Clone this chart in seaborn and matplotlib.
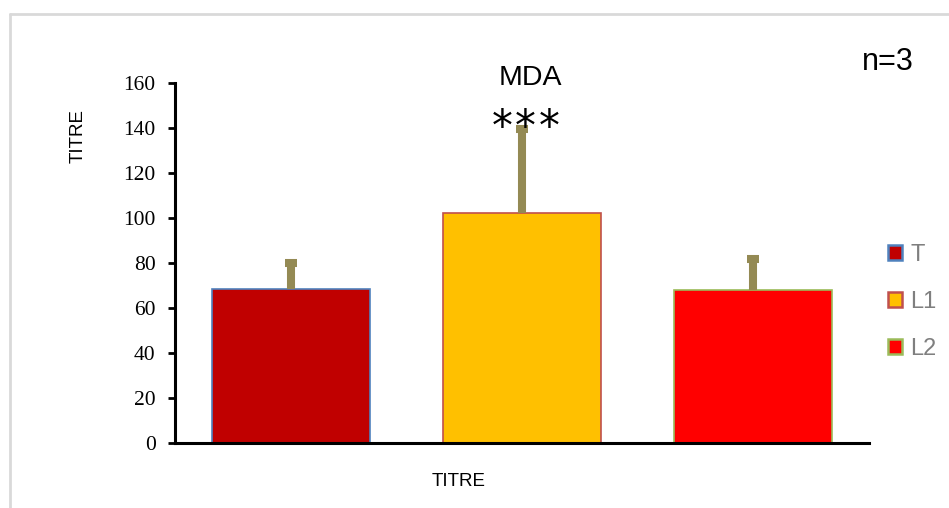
import matplotlib
matplotlib.use("Agg")
import matplotlib.pyplot as plt
from matplotlib.patches import Patch
from matplotlib.lines import Line2D
import seaborn as sns
import pandas as pd

# Groups, mean MDA titre and upper error (n=3)
groups = ["T", "L1", "L2"]
means = [68.3, 102.1, 68.0]
errors = [11.5, 37.5, 13.8]
fill_colors = ["#C00000", "#FFC000", "#FF0000"]
edge_colors = ["#4F81BD", "#C0504D", "#9BBB59"]
y_ticks = [0, 20, 40, 60, 80, 100, 120, 140, 160]

sns.set_theme(style="white")
plt.rcParams["font.family"] = ["Liberation Sans", "DejaVu Sans"]

W, H, DPI = 949, 508, 100
fig = plt.figure(figsize=(W / DPI, H / DPI), dpi=DPI)
fig.patch.set_facecolor("white")

def fx(px):
    return px / W

def fy(py):
    return 1 - py / H

# chart-area frame (top and left edges)
fig.add_artist(Line2D([fx(10), 1], [fy(13.5), fy(13.5)], color="#D9D9D9", lw=2))
fig.add_artist(Line2D([fx(10), fx(10)], [fy(13.5), 0], color="#D9D9D9", lw=2))

ax = fig.add_axes([fx(175), fy(443), fx(869) - fx(175), fy(83) - fy(443)])

df = pd.DataFrame({"group": groups, "mean": means})
sns.barplot(data=df, x="group", y="mean", hue="group", palette=fill_colors,
            width=0.684, legend=False, ax=ax, saturation=1)

for patch, ec in zip(ax.patches, edge_colors):
    patch.set_edgecolor(ec)
    patch.set_linewidth(1.2)

# upper error bars only
xs = list(range(len(groups)))
tops = [m + e for m, e in zip(means, errors)]
err_color = "#948A54"
ax.vlines(xs, means, tops, colors=err_color, linewidth=5.8, zorder=4)
ax.plot(xs, tops, linestyle="none", marker="_", markersize=9, mew=5.8,
        color=err_color, zorder=5)

ax.set_xlim(-0.5, 2.5)
ax.set_ylim(0, 160)
ax.set_yticks(y_ticks)
ax.set_yticklabels([str(t) for t in y_ticks], fontfamily="Liberation Serif",
                   fontsize=15.5, color="black")
ax.set_xticks([])
ax.tick_params(axis="y", direction="out", length=5, width=2, color="black",
               pad=9, left=True)
ax.set_xlabel("")
ax.set_ylabel("")
for side in ["top", "right"]:
    ax.spines[side].set_visible(False)
for side in ["left", "bottom"]:
    ax.spines[side].set_color("black")
    ax.spines[side].set_linewidth(2.2)
ax.set_facecolor("white")

# texts
fig.text(fx(530), fy(78), "MDA", ha="center", va="center", fontsize=20.5, color="black")
for px in (502, 525.5, 549):
    fig.text(fx(px), fy(140), "*", ha="center", va="baseline", fontsize=30,
             family="DejaVu Sans", color="black")
fig.text(fx(888), fy(70), "n=3", ha="center", va="baseline", fontsize=22, color="black")
fig.text(fx(459), fy(482), "TITRE", ha="center", va="center", fontsize=13.5, color="black")
fig.text(fx(78), fy(136), "TITRE", ha="center", va="center", rotation=90,
         fontsize=13.5, color="black")

# legend
handles = [Patch(facecolor=fc, edgecolor=ec, linewidth=1.8)
           for fc, ec in zip(fill_colors, edge_colors)]
leg = fig.legend(handles, groups, loc="upper left",
                 bbox_to_anchor=(fx(888), fy(244)), frameon=False,
                 fontsize=17, handlelength=0.6, handleheight=0.6,
                 handletextpad=0.34, labelspacing=1.06, borderaxespad=0,
                 borderpad=0)
for t in leg.get_texts():
    t.set_color("#7F7F7F")

fig.savefig("out.png", dpi=DPI)
